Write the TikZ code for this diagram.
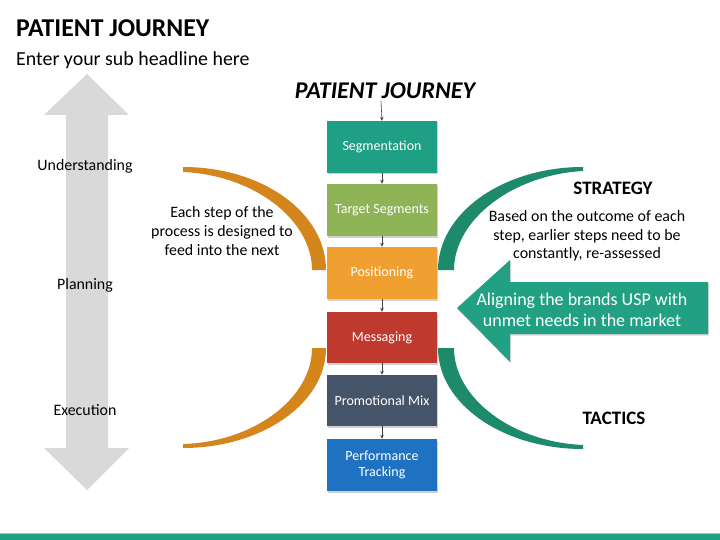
\documentclass[tikz,border=0pt]{standalone}
\usepackage{fontspec}
\setmainfont{Carlito}
\usetikzlibrary{shadows,arrows.meta}
\definecolor{segc}{HTML}{1FA085}
\definecolor{tarc}{HTML}{8FB458}
\definecolor{posc}{HTML}{F0A030}
\definecolor{mesc}{HTML}{C0392F}
\definecolor{proc}{HTML}{46546A}
\definecolor{perc}{HTML}{1F72C2}
\definecolor{orarc}{HTML}{D4861C}
\definecolor{grarc}{HTML}{1D8A6C}
\definecolor{arrc}{HTML}{22A083}
\definecolor{grayarr}{HTML}{D9D9D9}
\tikzset{
  stepbox/.style={rectangle, minimum width=110pt, minimum height=52pt, inner sep=2pt,
    text=white, align=center, font=\fontsize{14}{16.5}\selectfont,
    drop shadow={shadow xshift=1pt, shadow yshift=-1.5pt, opacity=0.35}},
  flowarr/.style={-{Stealth[length=4pt,width=3.5pt]}, draw=black!75, line width=0.6pt},
  sidelbl/.style={font=\fontsize{15.9}{18.6}\selectfont, align=center, text=black},
  headlbl/.style={font=\bfseries\fontsize{19}{22}\selectfont, text=black}
}
\begin{document}
\begin{tikzpicture}[x=1pt,y=-1pt]
\useasboundingbox (0,0) rectangle (720,540);
\fill[white] (0,0) rectangle (720,540);
% titles
\node[anchor=base west, inner sep=0, font=\bfseries\fontsize{25.7}{30}\selectfont] (title) at (16,37) {PATIENT JOURNEY};
\node[anchor=base west, inner sep=0, font=\fontsize{19.9}{24}\selectfont] (sub) at (16,66) {Enter your sub headline here};
% gray double arrow
\fill[grayarr] (87,74) -- (129,115) -- (108,115) -- (108,448) -- (129,448) -- (87,490) -- (44,448) -- (66,448) -- (66,115) -- (44,115) -- cycle;
\node[sidelbl] (und) at (85,166) {Understanding};
\node[sidelbl] (pla) at (85,285) {Planning};
\node[sidelbl] (exe) at (85,410) {Execution};
% orange arcs
\fill[orarc] (183,167) .. controls (263,167) and (326,213) .. (326,270) -- (312,270) .. controls (312,220) and (254,175) .. (183,172) -- cycle;
\fill[orarc] (183,448) .. controls (261,448) and (326,404) .. (326,348) -- (312,348) .. controls (312,398) and (254,442) .. (183,444) -- cycle;
% green arcs
\fill[grarc] (583,167) .. controls (503,167) and (438,213) .. (438,270) -- (454,270) .. controls (454,220) and (512,175) .. (583,171) -- cycle;
\fill[grarc] (583,449) .. controls (503,449) and (438,404) .. (438,348) -- (454,348) .. controls (454,398) and (512,442) .. (583,445) -- cycle;
% center title
\node[font=\bfseries\itshape\fontsize{24}{28}\selectfont, inner sep=0] (ctitle) at (385,91) {PATIENT JOURNEY};
\coordinate (start) at (381,101);
% boxes
\node[stepbox, fill=segc] (seg) at (382,147) {Segmentation};
\node[stepbox, fill=tarc] (tar) at (382,210) {Target Segments};
\node[stepbox, fill=posc] (pos) at (382,273) {Positioning};
\node[stepbox, fill=mesc, minimum height=51pt] (mes) at (382,337.5) {Messaging};
\node[stepbox, fill=proc, minimum height=51pt] (pro) at (382,400.5) {Promotional Mix};
\node[stepbox, fill=perc] (per) at (382,465) {Performance\\Tracking};
% flow arrows
\draw[flowarr] (start) -- (seg.north);
\draw[flowarr] (seg.south) -- (tar.north);
\draw[flowarr] (tar.south) -- (pos.north);
\draw[flowarr] (pos.south) -- (mes.north);
\draw[flowarr] (mes.south) -- (pro.north);
\draw[flowarr] (pro.south) -- (per.north);
% left text
\node[sidelbl] (feed) at (222,231) {Each step of the\\process is designed to\\feed into the next};
% right texts
\node[headlbl] (strat) at (613,188) {STRATEGY};
\node[sidelbl] (based) at (587,236) {Based on the outcome of each\\step, earlier steps need to be\\constantly, re-assessed};
\node[headlbl] (tact) at (614,418) {TACTICS};
% big arrow
\fill[arrc, drop shadow={shadow xshift=1pt, shadow yshift=-1.5pt, opacity=0.3}] (457,308) -- (510,260) -- (510,282) -- (708,282) -- (708,334) -- (510,334) -- (510,362) -- cycle;
\node[font=\fontsize{18}{21}\selectfont, text=white, align=center] (align) at (582,310) {Aligning the brands USP with\\unmet needs in the market};
% bottom strip
\fill[arrc!50] (0,532.5) rectangle (720,534.5);
\fill[arrc] (0,534) rectangle (720,540);
\end{tikzpicture}
\end{document}
